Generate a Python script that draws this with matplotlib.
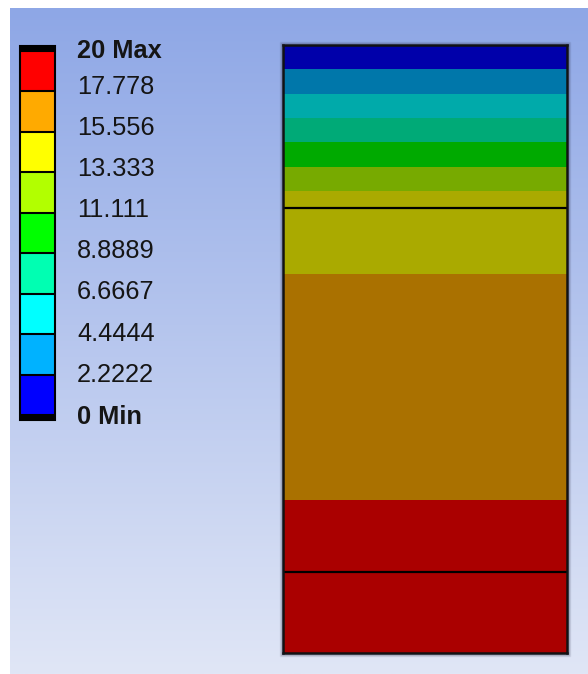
import numpy as np
import matplotlib
matplotlib.use("Agg")
import matplotlib.pyplot as plt
from matplotlib.colors import ListedColormap, BoundaryNorm
from matplotlib.transforms import ScaledTranslation
from matplotlib.patches import Rectangle

# ---- data ----
levels = [0, 2.2222, 4.4444, 6.6667, 8.8889, 11.111, 13.333, 15.556, 17.778, 20]
tick_labels = ["0 Min", "2.2222", "4.4444", "6.6667", "8.8889", "11.111",
               "13.333", "15.556", "17.778", "20 Max"]
legend_colors = ["#0000FF", "#00B2FF", "#00FFFF", "#00FFB2", "#00FF00",
                 "#B2FF00", "#FFFF00", "#FFAA00", "#FF0000"]
# temperature profile through the layered wall (depth from top, normalised)
depth = [0.0, 0.268, 0.867, 1.0]
value = [0.0, 14.9, 18.49, 20.0]
layer_interfaces = [0.268, 0.867]

W, H = 588, 674
fig = plt.figure(figsize=(W / 100, H / 100), dpi=100)
fig.patch.set_facecolor("white")

def px_axes(x0, y0, x1, y1, **kw):
    return fig.add_axes([x0 / W, 1 - y1 / H, (x1 - x0) / W, (y1 - y0) / H], **kw)

# background gradient
bg = px_axes(10, 8, W, H)
top = np.array([142, 167, 230]) / 255
bot = np.array([224, 230, 246]) / 255
t = np.linspace(0, 1, 256)[:, None]
grad = (top[None, :] * (1 - t) + bot[None, :] * t)[:, None, :]
bg.imshow(grad, aspect="auto", extent=[0, 1, 0, 1], origin="upper")
bg.set_axis_off()

# soft shadow around the body (drawn under the main axes)
for k, a in [(3.0, 0.10), (2.0, 0.20), (1.0, 0.30)]:
    fig.patches.append(Rectangle(((283 - k) / W, 1 - (653 + k) / H), (284 + 2 * k) / W,
                                 (608 + 2 * k) / H, transform=fig.transFigure,
                                 facecolor="none", edgecolor=(0.15, 0.15, 0.25, a), lw=1.0,
                                 zorder=0.5))

# legend colorbar
cmap = ListedColormap(legend_colors)
cmap.set_over("black")
cmap.set_under("black")
norm = BoundaryNorm(levels, cmap.N)
cax = px_axes(20, 46, 55, 420)
sm = matplotlib.cm.ScalarMappable(norm=norm, cmap=cmap)
cb = fig.colorbar(sm, cax=cax, ticks=levels, extend="both", extendrect=True,
                  extendfrac=5 / 364, drawedges=True)
cb.outline.set_linewidth(1.5)
cb.outline.set_edgecolor("black")
cb.dividers.set_color("black")
cb.dividers.set_linewidth(1.5)
cax.tick_params(length=0, pad=16)
cb.set_ticklabels(tick_labels)
n = len(levels)
label_shift_px = [0, 2, 2.5, 4, 5, 5.5, 5.5, 6.5, 6.5, 3]
for i, lab in enumerate(cax.get_yticklabels()):
    lab.set_family("Liberation Sans")
    lab.set_fontsize(18.3)
    lab.set_color("#151515")
    if i in (0, n - 1):
        lab.set_fontweight("bold")
    dy = label_shift_px[i]
    lab.set_transform(lab.get_transform() + ScaledTranslation(0, dy / 100, fig.dpi_scale_trans))

# main contour plot
ax = px_axes(283, 45, 567, 653)
X, Y = np.meshgrid([0, 1], depth)
Z = np.tile(np.array(value)[:, None], (1, 2))
dark = [tuple(c * 2 / 3 for c in matplotlib.colors.to_rgb(col)) for col in legend_colors]
ax.contourf(X, Y, Z, levels=levels, colors=dark, extend="neither")
for d in layer_interfaces:
    ax.axhline(d, color="black", lw=1.6)
ax.set_xlim(0, 1)
ax.set_ylim(1, 0)
ax.set_xticks([])
ax.set_yticks([])
for s in ax.spines.values():
    s.set_linewidth(1.8)
    s.set_color("#111111")

fig.savefig("out.png", dpi=100)
